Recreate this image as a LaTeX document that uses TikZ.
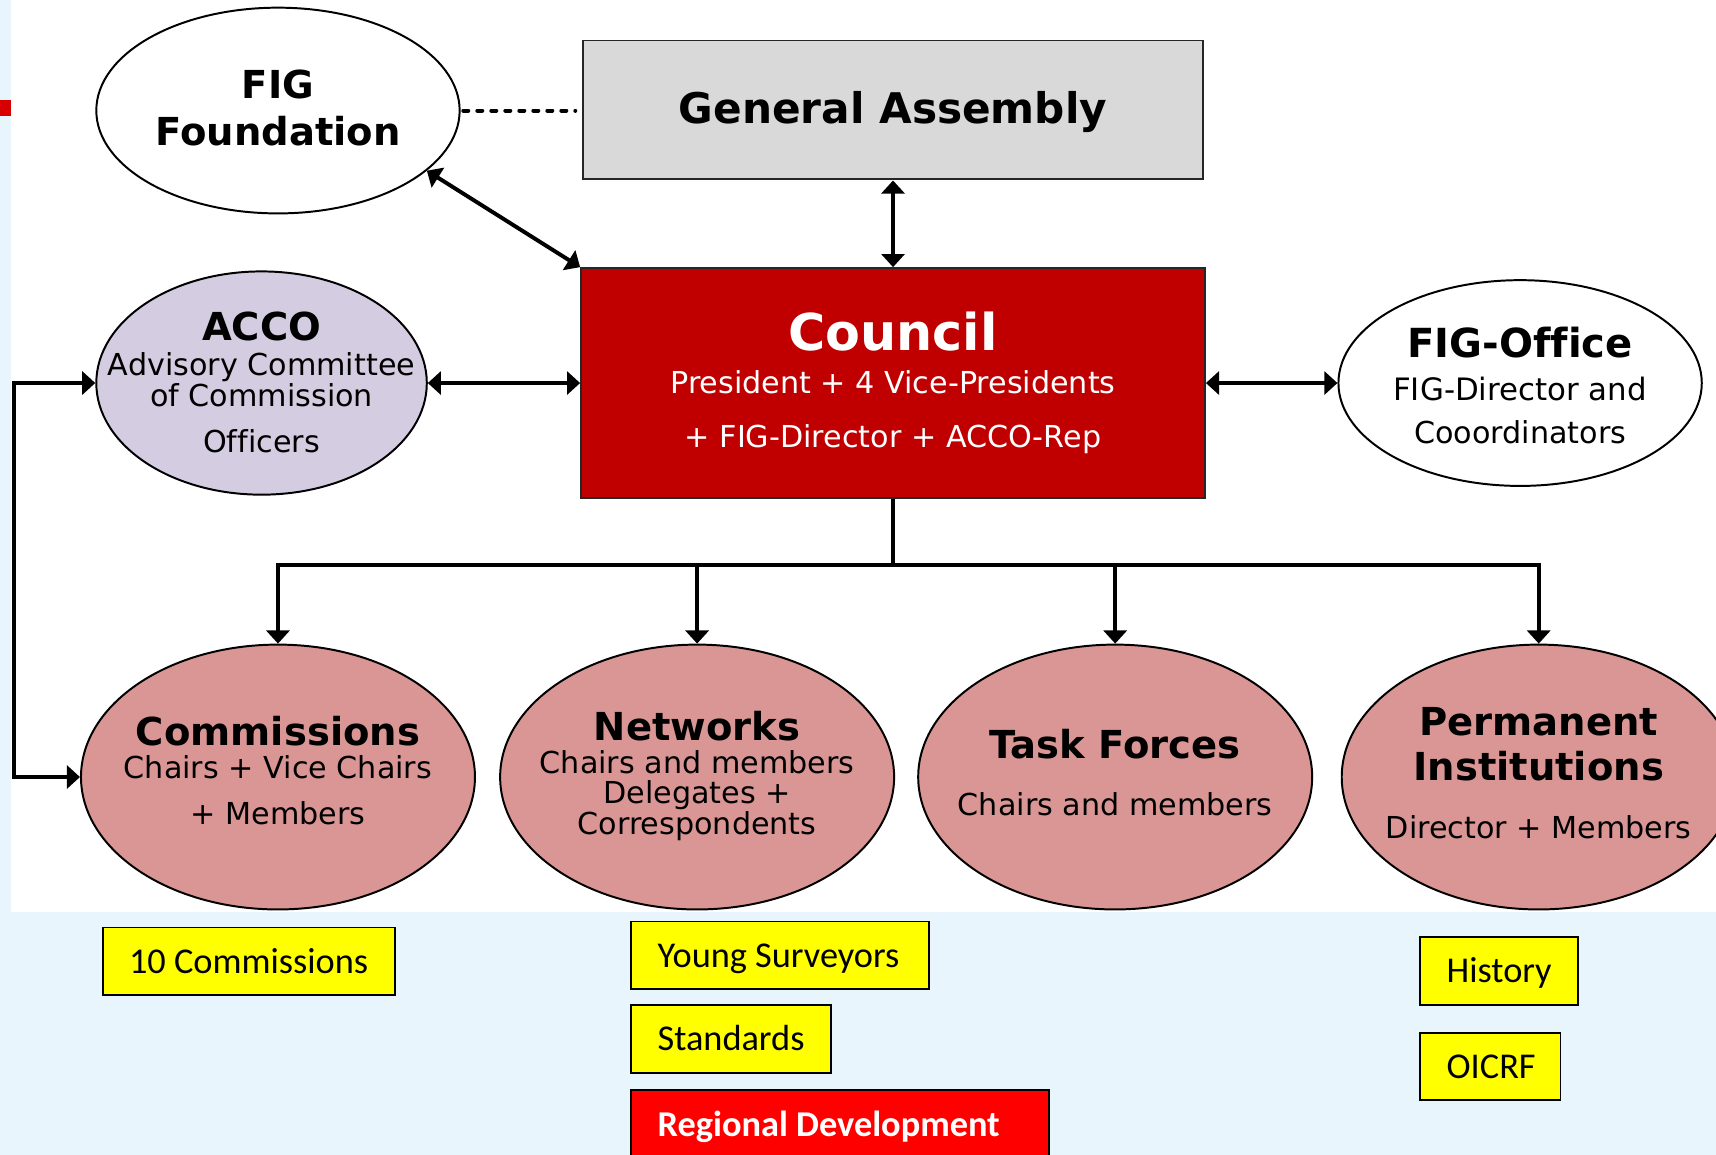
\documentclass[tikz,border=0pt]{standalone}
\usepackage{fontspec}
\setmainfont{DejaVu Sans}[Ligatures={NoCommon}]
\newfontfamily\calfont{Carlito}
\usetikzlibrary{shapes.geometric, arrows.meta}
\definecolor{bgblue}{RGB}{233,245,253}
\definecolor{gagray}{RGB}{217,217,217}
\definecolor{councilred}{RGB}{192,0,0}
\definecolor{accofill}{RGB}{212,204,224}
\definecolor{pinkfill}{RGB}{217,150,148}
\definecolor{markred}{RGB}{215,0,0}
\definecolor{rdred}{RGB}{255,0,0}
\definecolor{yboxfill}{RGB}{255,255,0}
\begin{document}
\begin{tikzpicture}[x=0.5pt, y=-0.5pt,
  ell/.style={ellipse, draw=black, line width=0.9pt, inner sep=0pt},
  sqbox/.style={rectangle, draw=black!85, line width=0.9pt, inner sep=0pt},
  ttl/.style={font=\bfseries\fontsize{17.6}{20}\selectfont, inner sep=0pt, text height=12.8pt, text depth=0pt},
  bdy/.style={font=\fontsize{13.8}{16}\selectfont, inner sep=0pt, text height=10.1pt, text depth=0pt},
  conn/.style={line width=1.8pt, draw=black},
  >={Triangle[width=10.5pt,length=6pt]},
  lbl/.style={rectangle, draw=black, line width=0.9pt, anchor=west, inner xsep=12pt, inner ysep=0pt, minimum height=31pt, text height=10.6pt, text depth=0pt, font=\calfont\fontsize{16.6}{19}\selectfont},
]
\useasboundingbox (0,0) rectangle (1568,1055);
\clip (0,0) rectangle (1568,1055);
% background
\fill[bgblue] (0,0) rectangle (1568,1055);
\fill[white] (10,0) rectangle (1568,833);
\fill[markred] (0,91) rectangle (10,106);

% top row
\node[ell, fill=white, minimum width=166pt, minimum height=94pt] (ff) at (254,101) {};
\node[ttl] (ffa) at (254,77) {FIG};
\node[ttl] (ffb) at (254,120) {Foundation};

\node[sqbox, fill=gagray, minimum width=283pt, minimum height=63.5pt] (ga) at (816,100.5) {};
\node[ttl, font=\bfseries\fontsize{19.3}{22}\selectfont, text height=14.1pt] (gat) at (816,99) {General Assembly};

% council
\node[sqbox, fill=councilred, minimum width=285pt, minimum height=105pt] (co) at (816,350) {};
\node[ttl, text=white, font=\bfseries\fontsize{23.2}{26}\selectfont, text height=16.9pt] (coa) at (816,303) {Council};
\node[bdy, text=white] (cob) at (816,349) {President + 4 Vice-Presidents};
\node[bdy, text=white] (coc) at (816,399) {+ FIG-Director + ACCO-Rep};

% ACCO
\node[ell, fill=accofill, minimum width=151pt, minimum height=102pt] (ac) at (239,350) {};
\node[ttl] (aca) at (239,298) {ACCO};
\node[bdy] (acb) at (239,333) {Advisory Committee};
\node[bdy] (acc) at (239,361) {of Commission};
\node[bdy] (acd) at (239,403) {Officers};

% FIG-Office
\node[ell, fill=white, minimum width=166pt, minimum height=94pt] (fo) at (1389,350) {};
\node[ttl, font=\bfseries\fontsize{18.3}{20}\selectfont] (foa) at (1389,314) {FIG-Office};
\node[bdy, font=\fontsize{14.1}{16}\selectfont] (fob) at (1389,356) {FIG-Director and};
\node[bdy] (foc) at (1389,395) {Cooordinators};

% bottom ellipses
\node[ell, fill=pinkfill, minimum width=180pt, minimum height=121pt] (cm) at (254,710) {};
\node[ttl] (cma) at (254,668) {Commissions};
\node[bdy] (cmb) at (254,701) {Chairs + Vice Chairs};
\node[bdy] (cmc) at (254,743) {+ Members};

\node[ell, fill=pinkfill, minimum width=180pt, minimum height=121pt] (nw) at (637,710) {};
\node[ttl] (nwa) at (637,664) {Networks};
\node[bdy] (nwb) at (637,697) {Chairs and members};
\node[bdy] (nwc) at (637,724) {Delegates +};
\node[bdy] (nwd) at (637,752) {Correspondents};

\node[ell, fill=pinkfill, minimum width=180pt, minimum height=121pt] (tf) at (1019,710) {};
\node[ttl] (tfa) at (1019,680) {Task Forces};
\node[bdy] (tfb) at (1019,735) {Chairs and members};

\node[ell, fill=pinkfill, minimum width=180pt, minimum height=121pt] (pi) at (1406,710) {};
\node[ttl] (pia) at (1406,659) {Permanent};
\node[ttl] (pib) at (1406,700) {Institutions};
\node[bdy] (pic) at (1406,756) {Director + Members};

% connectors
\draw[line width=1.8pt, line cap=round, dash pattern=on 2.3pt off 4.1pt] ([xshift=1.2pt]ff.east) -- ([xshift=-3.2pt]ga.west |- ff.east);
\draw[conn, <->] (ga.south) -- (co.north);
\draw[conn, <->] (ff.-22) -- (co.north west);
\draw[conn, <->] (ac.east) -- (co.west);
\draw[conn, <->] (co.east) -- (fo.west);
\coordinate (jn) at (816,516);
\draw[conn] (co.south) -- (jn);
\draw[conn, ->] (jn) -| (cm.north);
\draw[conn, ->] (jn) -| (nw.north);
\draw[conn, ->] (jn) -| (tf.north);
\draw[conn, ->] (jn) -| (pi.north);
\coordinate (lx) at (13,530);
\draw[conn, <->] (ac.west) -| (lx) |- (cm.west);

% label boxes
\node[lbl, fill=yboxfill] (c10) at (93,878.5) {\makebox[109.5pt][l]{10 Commissions}};
\node[lbl, fill=yboxfill] (ys) at (576,873) {\makebox[112pt][l]{Young Surveyors}};
\node[lbl, fill=yboxfill] (st) at (576,949) {\makebox[67pt][l]{Standards}};
\node[lbl, fill=rdred, text=white, minimum height=32pt, font=\calfont\bfseries\fontsize{16.6}{19}\selectfont] (rd) at (576,1028) {\makebox[167pt][l]{Regional Development}};
\node[lbl, fill=yboxfill] (hi) at (1297,887) {\makebox[48pt][l]{History}};
\node[lbl, fill=yboxfill] (oi) at (1297,974.5) {\makebox[40pt][l]{OICRF}};
\end{tikzpicture}
\end{document}
